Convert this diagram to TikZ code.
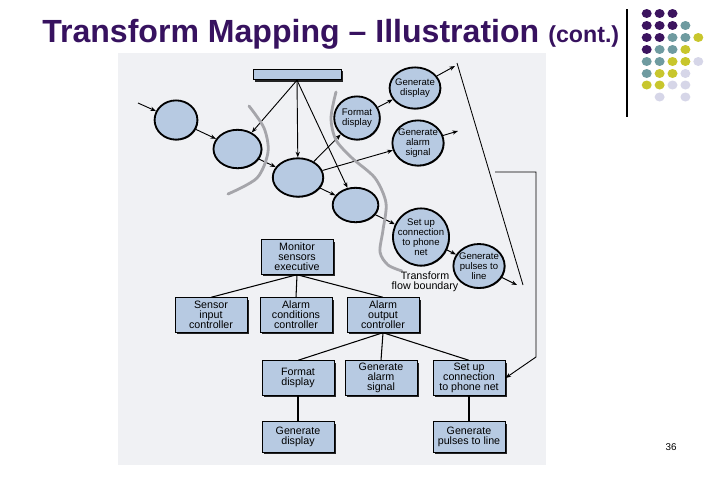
\documentclass[tikz,border=0pt]{standalone}
\usepackage{fontspec}
\setmainfont{Liberation Sans}
\usetikzlibrary{shapes.geometric,arrows.meta,shadows}
\definecolor{mypurple}{RGB}{55,18,95}
\definecolor{dotp}{RGB}{60,20,95}
\definecolor{dott}{RGB}{111,155,160}
\definecolor{doto}{RGB}{200,198,45}
\definecolor{dotl}{RGB}{214,214,232}
\definecolor{scanbg}{RGB}{240,241,244}
\definecolor{boxblue}{RGB}{183,202,226}
\definecolor{bndgray}{RGB}{165,165,170}

\begin{document}
\begin{tikzpicture}[x=0.025cm,y=-0.025cm,
    every node/.style={font=\fontsize{7.6}{7.1}\selectfont},
    module/.style={draw,line width=0.7pt,fill=boxblue,minimum width=1.8cm,minimum height=0.86cm,inner sep=0.5pt,align=center,
      drop shadow={shadow xshift=1.3pt,shadow yshift=-1.3pt,fill=black,opacity=0.85}},
    bubble/.style={ellipse,draw,line width=1.3pt,fill=boxblue,inner sep=0pt,
      drop shadow={shadow xshift=0.6pt,shadow yshift=-0.6pt,fill=black,opacity=0.7}},
    bubtext/.style={align=center,font=\fontsize{6.8}{7}\selectfont},
    flow/.style={-{Stealth[length=4pt,width=3pt]},line width=0.65pt},
    tree/.style={line width=0.75pt},
    bnd/.style={line width=2pt,draw=bndgray,line cap=round}]
  \useasboundingbox (0,0) rectangle (720,480);

  % slide frame
  \node[anchor=base west,inner sep=0pt,text=mypurple,font=\fontsize{22.8}{26}\selectfont\bfseries] (title) at (42,42) {Transform Mapping – Illustration};
  \node[anchor=base west,inner sep=0pt,text=mypurple,font=\fontsize{16.5}{20}\selectfont\bfseries] (cont) at (548,42) {(cont.)};
  \draw[line width=0.8pt] (627,9) -- (627,117);
  \foreach \y/\row in {13.5/{p,p,p},25.5/{p,p,p,t},37.5/{p,p,t,t,o},49.5/{p,t,t,o},61.5/{t,t,o,o,l},73.5/{t,o,o,l},85/{o,o,l,l}}
    \foreach \c [count=\i from 0] in \row
      \fill[dot\c] ({646.7+12.9*\i},\y) ellipse [x radius=5, y radius=4.5];
  \fill[dotl] (659.6,97) ellipse [x radius=5, y radius=4.5];
  \fill[dotl] (685.4,97) ellipse [x radius=5, y radius=4.5];
  \node (pagenum) at (671,447) {\fontsize{7}{8}\selectfont 36};

  % scanned figure
  \fill[scanbg] (118,53) rectangle (546,465);

  % flow graph
  \node[draw,line width=0.7pt,fill=boxblue,minimum width=2.2cm,minimum height=0.26cm,inner sep=0pt,
    drop shadow={shadow xshift=1.3pt,shadow yshift=-1.3pt,fill=black,opacity=0.85}] (store) at (297,74.5) {};
  \node[bubble,minimum width=1.07cm,minimum height=0.98cm] (e1) at (176,120) {};
  \node[bubble,minimum width=1.2cm,minimum height=0.96cm] (e2) at (237.5,149) {};
  \node[bubble,minimum width=1.26cm,minimum height=0.96cm] (e3) at (298,177.5) {};
  \node[bubble,minimum width=1.14cm,minimum height=0.86cm] (e4) at (355.5,205) {};
  \node[bubble,minimum width=1.14cm,minimum height=1.08cm,label={[bubtext]center:Format\\display}] (fdisp) at (357,118) {};
  \node[bubble,minimum width=1.27cm,minimum height=1.03cm,label={[bubtext]center:Generate\\display}] (gdisp) at (415,88) {};
  \node[bubble,minimum width=1.28cm,minimum height=1.13cm,label={[bubtext]center:Generate\\alarm\\signal}] (gasig) at (418,143) {};
  \node[bubble,minimum width=1.4cm,minimum height=1.43cm,label={[bubtext]center:Set up\\connection\\to phone\\net}] (setup) at (421,237) {};
  \node[bubble,minimum width=1.28cm,minimum height=1.1cm,label={[bubtext]center:Generate\\pulses to\\line}] (gpls) at (479,266) {};

  \coordinate (in) at (138,103);
  \coordinate (gdout) at (455,66);
  \coordinate (gaout) at (458,131);
  \coordinate (gpout) at (517,285);
  \foreach \a/\b in {in/e1,e1/e2,e2/e3,e3/fdisp,e3/gasig,e3/e4,e4/setup,setup/gpls,fdisp/gdisp,gdisp/gdout,gasig/gaout,gpls/gpout}
    \draw[flow] (\a) -- (\b);
  \foreach \b in {e2,e3,e4}
    \draw[flow] (store.south) -- (\b);

  % boundaries
  \draw[bnd] plot[smooth] coordinates {(249,106) (264,128) (268,152) (257,178) (228,194)};
  \draw[bnd] plot[smooth] coordinates {(336,92) (331,118) (336,140) (352,158) (375,178) (386,203) (383,230) (380,252) (388,265) (402,271)};
  \node[align=center] (tfb) at (425,282) {Transform\\flow boundary};

  % program structure
  \node[module] (monitor) at (297,257) {Monitor\\sensors\\executive};
  \node[module] (sensor) at (211,315) {Sensor\\input\\controller};
  \node[module] (acond) at (296,315) {Alarm\\conditions\\controller};
  \node[module] (aout) at (383,315) {Alarm\\output\\controller};
  \node[module] (bfdisp) at (298,378) {Format\\display};
  \node[module] (bgasig) at (381,378) {Generate\\alarm\\signal};
  \node[module] (bsetup) at (469,378) {Set up\\connection\\to phone net};
  \node[module,minimum height=0.76cm] (bgdisp) at (298,437) {Generate\\display};
  \node[module,minimum height=0.76cm] (bgpls) at (469,437) {Generate\\pulses to line};
  \foreach \b in {sensor,acond,aout}
    \draw[tree] (monitor.south) -- (\b.north);
  \foreach \b in {bfdisp,bgasig,bsetup}
    \draw[tree] (aout.south) -- (\b.north);
  \draw[tree] (bfdisp) -- (bgdisp);
  \draw[tree] (bsetup) -- (bgpls);

  % mapping lines
  \coordinate (lt) at (457,63);
  \coordinate (lb) at (523,285);
  \draw[line width=0.6pt] (lt) -- (lb);
  \coordinate (fb) at (495,172);
  \coordinate (c1) at (536,172);
  \coordinate (c2) at (536,357);
  \draw[flow] (fb) -- (c1) -- (c2) -- (bsetup.east);
\end{tikzpicture}
\end{document}
